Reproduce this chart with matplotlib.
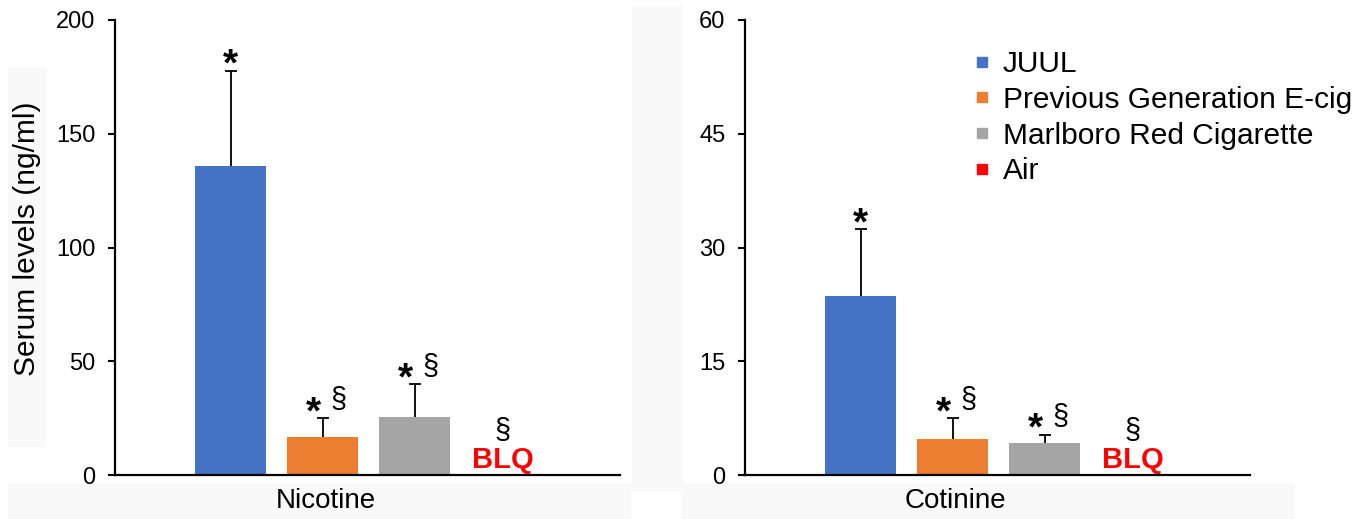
import matplotlib.pyplot as plt
from matplotlib.lines import Line2D
from matplotlib.patches import Rectangle

groups = ["JUUL", "Previous Generation E-cig", "Marlboro Red Cigarette", "Air"]
colors = ["#4472C4", "#ED7D31", "#A5A5A5", "#FF0000"]

nicotine_mean = [136.0, 16.8, 25.6, 0.0]
nicotine_err = [41.6, 8.2, 14.3, 0.0]
cotinine_mean = [23.6, 4.8, 4.2, 0.0]
cotinine_err = [8.8, 2.7, 1.1, 0.0]

stars = ["*", "*", "*", ""]
sections = ["", "§", "§", "§"]
blq = [False, False, False, True]

plt.rcParams["font.family"] = ["Liberation Sans", "DejaVu Sans"]

W, H = 1371, 519
fig = plt.figure(figsize=(W / 100, H / 100), dpi=100)

# faint grey patches from the source image
for x0, y0, x1, y1 in [(8, 483, 630, 519), (8, 67, 45, 446),
                       (632, 6, 682, 490), (682, 483, 1293, 519)]:
    fig.patches.append(Rectangle((x0 / W, 1 - y1 / H), (x1 - x0) / W, (y1 - y0) / H,
                                 transform=fig.transFigure, color="#f9f9f9", zorder=-1))

ax1 = fig.add_axes([115 / W, 44 / H, 505 / W, 455 / H])
ax2 = fig.add_axes([745 / W, 44 / H, 505 / W, 455 / H])


def panel(ax, means, errs, label, ymax, step):
    x = list(range(len(groups)))
    tops = [m + e for m, e in zip(means, errs)]
    ax.bar(x, means, width=0.77, color=colors, zorder=3)
    # upper error only, cap at the top end
    ax.errorbar(x[:3], means[:3], yerr=[[0, 0, 0], errs[:3]], fmt="none",
                ecolor="black", elinewidth=1.3, capsize=0, zorder=2)
    ax.plot(x[:3], tops[:3], ls="none", marker="_", ms=8.5, mew=1.3, color="black", zorder=2)
    for i in x:
        if stars[i]:
            dx = 0 if not sections[i] else -6.5
            ax.annotate(stars[i], (i, tops[i]), xytext=(dx, -3.5), textcoords="offset points",
                        ha="center", va="baseline", fontsize=28, fontweight="bold")
        if sections[i] and not blq[i]:
            ax.annotate(sections[i], (i, tops[i]), xytext=(11, 7), textcoords="offset points",
                        ha="center", va="baseline", fontsize=21)
        if blq[i]:
            ax.annotate(sections[i], (i, 0), xytext=(-3, 26), textcoords="offset points",
                        ha="center", va="baseline", fontsize=21)
            ax.annotate("BLQ", (i, 0), xytext=(-3, 1), textcoords="offset points",
                        ha="center", va="bottom", fontsize=21, fontweight="bold",
                        color="#FF0000")

    ax.set_xlim(-1.26, 4.23)
    ax.set_ylim(0, ymax)
    ax.set_yticks(range(0, ymax + 1, step))
    ax.set_xticks([1.03])
    ax.set_xticklabels([label], fontsize=20)
    ax.tick_params(axis="x", length=0, pad=9)
    ax.tick_params(axis="y", labelsize=17, width=1.5, length=5, pad=9)
    for s in ["top", "right"]:
        ax.spines[s].set_visible(False)
    for s in ["left", "bottom"]:
        ax.spines[s].set_linewidth(1.6)
        ax.spines[s].set_zorder(4)
    ax.patch.set_alpha(0)


panel(ax1, nicotine_mean, nicotine_err, "Nicotine", 200, 50)
panel(ax2, cotinine_mean, cotinine_err, "Cotinine", 60, 15)

ax1.set_ylabel("Serum levels (ng/ml)", fontsize=21.5)
ax1.yaxis.set_label_coords(-0.146, 0.52)

handles = [Line2D([], [], marker="s", linestyle="none", color=c, markersize=7)
           for c in colors]
fig.legend(handles, groups, loc="upper left", bbox_to_anchor=(973 / W, 1 - 50 / H),
           frameon=False, fontsize=21.5, handlelength=0.6, handletextpad=0.4,
           borderpad=0, borderaxespad=0, labelspacing=0.26)

fig.savefig("out.png", dpi=100)
